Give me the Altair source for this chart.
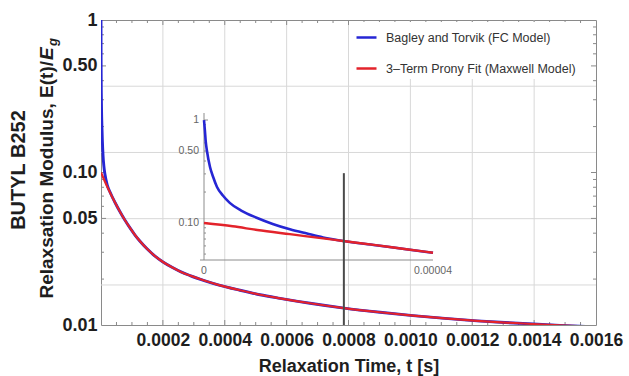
import altair as alt
import pandas as pd

W, H = 495, 305
FONT = "Liberation Sans"

series_names = ["Bagley and Torvik (FC Model)", "3–Term Prony Fit (Maxwell Model)"]
series_colors = ["#2626d4", "#e3232b"]

# ---- main chart curves (time in s, E(t)/Eg) ----
main_red_t = [0, 1.29e-5, 2.91e-5, 4.53e-5, 6.14e-5, 7.76e-5, 9.37e-5, 1.099e-4, 1.261e-4,
              1.487e-4, 1.745e-4, 2.004e-4, 2.295e-4, 2.586e-4, 2.877e-4, 3.362e-4, 3.846e-4,
              4.493e-4, 5.139e-4, 5.786e-4, 6.756e-4, 7.855e-4, 9.018e-4, 1.0085e-3,
              1.1119e-3, 1.2154e-3, 1.3059e-3, 1.3964e-3, 1.4836e-3, 1.6e-3]
main_red_E = [0.1000, 0.0870, 0.0739, 0.0636, 0.0553, 0.0486, 0.0433, 0.0389, 0.0354,
              0.0316, 0.0283, 0.0259, 0.0239, 0.0223, 0.0211, 0.0195, 0.0182,
              0.0169, 0.0158, 0.01496, 0.01388, 0.01291, 0.01212, 0.01152,
              0.01105, 0.01065, 0.01038, 0.01015, 0.00995, 0.00972]
main_blue_t = [0, 1e-7, 3e-7, 6e-7, 1e-6, 2e-6, 3e-6, 4.5e-6, 6.5e-6, 9.3e-6, 1.29e-5, 2e-5,
               2.91e-5, 4.53e-5, 6.14e-5, 7.76e-5, 9.37e-5, 1.099e-4, 1.261e-4,
               1.487e-4, 1.745e-4, 2.004e-4, 2.295e-4, 2.586e-4, 2.877e-4, 3.362e-4, 3.846e-4,
               4.493e-4, 5.139e-4, 5.786e-4, 6.756e-4, 7.855e-4, 9.018e-4, 1.0085e-3,
               1.1119e-3, 1.2154e-3, 1.3059e-3, 1.3964e-3, 1.4836e-3, 1.6e-3]
main_blue_E = [1.0, 0.80, 0.55, 0.42, 0.33, 0.24, 0.20, 0.16, 0.13, 0.110, 0.097, 0.083,
               0.0745, 0.0636, 0.0553, 0.0486, 0.0433, 0.0389, 0.0354,
               0.0316, 0.0283, 0.0259, 0.0239, 0.0223, 0.0211, 0.0195, 0.0182,
               0.0169, 0.0158, 0.01496, 0.01388, 0.01291, 0.01212, 0.01152,
               0.01105, 0.01065, 0.01038, 0.01015, 0.00995, 0.00972]

# ---- inset curves ----
inset_blue_t = [0, 1.5e-7, 3e-7, 5.2e-7, 1.05e-6, 1.6e-6, 2.27e-6, 3.3e-6, 4.5e-6, 6.5e-6,
                9.3e-6, 1.2e-5, 1.5e-5, 1.8e-5, 2.08e-5, 2.43e-5, 3e-5, 3.5e-5, 4e-5]
inset_blue_E = [1.0, 0.80, 0.62, 0.50, 0.35, 0.28, 0.224, 0.185, 0.157, 0.132, 0.112, 0.098,
                0.087, 0.079, 0.0725, 0.067, 0.061, 0.056, 0.0515]
inset_red_t = [0, 5e-6, 9.3e-6, 1.5e-5, 2.08e-5, 2.43e-5, 3e-5, 3.5e-5, 4e-5]
inset_red_E = [0.100, 0.093, 0.0857, 0.078, 0.071, 0.067, 0.061, 0.056, 0.0515]

# ---- axes / grid ----
x_label_values = [0.0002, 0.0004, 0.0006, 0.0008, 0.0010, 0.0012, 0.0014, 0.0016]
y_label_values = [0.01, 0.05, 0.1, 0.5, 1]
grid_x = [0.0002, 0.0004, 0.0006, 0.0008, 0.0010, 0.0012, 0.0014]
grid_y = [0.3679, 0.1353, 0.0498, 0.0183]
x_minor = [0.00005, 0.0001, 0.00015, 0.00025, 0.0003, 0.00035, 0.00045, 0.0005, 0.00055,
           0.00065, 0.0007, 0.00075, 0.00085, 0.0009, 0.00095, 0.00105, 0.0011, 0.00115,
           0.00125, 0.0013, 0.00135, 0.00145, 0.0015, 0.00155]
x_major = [0.0002, 0.0004, 0.0006, 0.0008, 0.0010, 0.0012, 0.0014]
y_minor = [0.02, 0.03, 0.04, 0.06, 0.07, 0.08, 0.09, 0.2, 0.3, 0.4, 0.6, 0.7, 0.8, 0.9]
y_major = [0.05, 0.1, 0.5]

inset_x_labels = [0, 0.00004]
inset_x_label_text = ["0", "0.00004"]
inset_y_labels = [1, 0.5, 0.1]
inset_y_label_text = ["1", "0.50", "0.10"]
inset_y_ticks = [0.05, 0.06, 0.07, 0.08, 0.09, 0.2, 0.3, 0.4, 0.6, 0.7, 0.8, 0.9]
convergence_t = 0.000785

xs = alt.Scale(domain=[0, 0.0016], nice=False, zero=False)
ys = alt.Scale(type="log", domain=[0.01, 1], nice=False)
ixs = alt.Scale(domain=[0, 0.00004], range=[103, 332], nice=False, zero=False)
iys = alt.Scale(type="log", domain=[0.0438, 1.17], range=[240, 93], nice=False)

color_scale = alt.Scale(domain=series_names, range=series_colors)
legend = alt.Legend(orient="none", legendX=250, legendY=2, title=None, symbolType="stroke",
                    symbolSize=400, symbolStrokeWidth=2.5, labelFont=FONT, labelFontSize=12.5,
                    labelColor="#333333", labelOffset=8, rowPadding=13, padding=4,
                    fillColor="white", labelLimit=400)

FRAME = "#8a8a8a"
GRID = "#d8d8d8"

def df(**cols):
    return pd.DataFrame(cols)

x_axis = alt.Axis(values=x_label_values, format=".4f", grid=False, ticks=False, domain=False,
                  labelFont=FONT, labelFontSize=17.5, labelFontWeight="bold", labelColor="#1e1e1e",
                  labelPadding=6, labelFlush=False, labelOverlap=False,
                  title="Relaxation Time, t [s]", titleFont=FONT, titleFontSize=18,
                  titleFontWeight="bold", titleColor="#1e1e1e", titlePadding=9)
y_axis = alt.Axis(values=y_label_values,
                  labelExpr="datum.value >= 1 ? '1' : format(datum.value, '.2f')",
                  grid=False, ticks=False, domain=False, labelFont=FONT, labelFontSize=18,
                  labelFontWeight="bold", labelColor="#1e1e1e", labelPadding=4,
                  labelOverlap=False, title=None)

layers = []
# grid
layers.append(alt.Chart(df(g=grid_x)).mark_rule(color=GRID, strokeWidth=1).encode(
    x=alt.X("g:Q", scale=xs, axis=x_axis)))
layers.append(alt.Chart(df(g=grid_y)).mark_rule(color=GRID, strokeWidth=1).encode(
    y=alt.Y("g:Q", scale=ys, axis=y_axis)))

# frame ticks (inward)
def xticks(vals, ln):
    out = []
    out.append(alt.Chart(df(v=vals)).mark_rule(color=FRAME, strokeWidth=1).encode(
        x=alt.X("v:Q", scale=xs), y=alt.value(H), y2=alt.value(H - ln)))
    out.append(alt.Chart(df(v=vals)).mark_rule(color=FRAME, strokeWidth=1).encode(
        x=alt.X("v:Q", scale=xs), y=alt.value(0), y2=alt.value(ln)))
    return out

def yticks(vals, ln):
    out = []
    out.append(alt.Chart(df(v=vals)).mark_rule(color=FRAME, strokeWidth=1).encode(
        y=alt.Y("v:Q", scale=ys), x=alt.value(0), x2=alt.value(ln)))
    out.append(alt.Chart(df(v=vals)).mark_rule(color=FRAME, strokeWidth=1).encode(
        y=alt.Y("v:Q", scale=ys), x=alt.value(W), x2=alt.value(W - ln)))
    return out

layers += xticks(x_minor, 3) + xticks(x_major, 5) + yticks(y_minor, 3) + yticks(y_major, 5)

blue_df = df(t=main_blue_t, E=main_blue_E, series=[series_names[0]] * len(main_blue_t))
red_df = df(t=main_red_t, E=main_red_E, series=[series_names[1]] * len(main_red_t))
for d, sw in ((blue_df, 2.9), (red_df, 2.2)):
    layers.append(alt.Chart(d).mark_line(strokeWidth=sw, interpolate="monotone", clip=True).encode(
        x=alt.X("t:Q", scale=xs), y=alt.Y("E:Q", scale=ys),
        color=alt.Color("series:N", scale=color_scale, legend=legend)))

# y title (two lines, with italic E_g)
one = pd.DataFrame({"a": [0]})
layers.append(alt.Chart(one).mark_text(text="BUTYL B252", angle=270, align="center",
                                       baseline="alphabetic", font=FONT, fontSize=20,
                                       fontWeight="bold", color="#1e1e1e").encode(
    x=alt.value(-76), y=alt.value(150)))
layers.append(alt.Chart(one).mark_text(text="Relaxsation Modulus, E(t)/", angle=270, align="right",
                                       baseline="alphabetic", font=FONT, fontSize=19,
                                       fontWeight="bold", color="#1e1e1e").encode(
    x=alt.value(-48), y=alt.value(41)))
layers.append(alt.Chart(one).mark_text(text="E", angle=270, align="left",
                                       baseline="alphabetic", font=FONT, fontSize=19,
                                       fontWeight="bold", fontStyle="italic", color="#1e1e1e").encode(
    x=alt.value(-48), y=alt.value(40)))
layers.append(alt.Chart(one).mark_text(text="g", angle=270, align="left",
                                       baseline="alphabetic", font=FONT, fontSize=13,
                                       fontWeight="bold", fontStyle="italic", color="#1e1e1e").encode(
    x=alt.value(-44), y=alt.value(26)))

main = alt.layer(*layers)

# ---- inset ----
ilayers = []
IAX = "#8c8c8c"
ilayers.append(alt.Chart(df(x=[0], y=[0.0438], y2=[1.17])).mark_rule(color=IAX, strokeWidth=1).encode(
    x=alt.X("x:Q", scale=ixs, axis=None), y=alt.Y("y:Q", scale=iys, axis=None), y2="y2:Q"))
ilayers.append(alt.Chart(df(x=[-0.0000007], x2=[0.00004], y=[0.0438])).mark_rule(color=IAX, strokeWidth=1).encode(
    x=alt.X("x:Q", scale=ixs, axis=None), x2="x2:Q", y=alt.Y("y:Q", scale=iys, axis=None)))
ilayers.append(alt.Chart(df(v=inset_y_ticks)).mark_rule(color=IAX, strokeWidth=1).encode(
    y=alt.Y("v:Q", scale=iys, axis=None), x=alt.value(103), x2=alt.value(105)))
ilayers.append(alt.Chart(df(v=inset_y_labels)).mark_rule(color=IAX, strokeWidth=1).encode(
    y=alt.Y("v:Q", scale=iys, axis=None), x=alt.value(103), x2=alt.value(107)))
ilayers.append(alt.Chart(df(v=inset_y_labels, s=inset_y_label_text)).mark_text(
    align="right", baseline="middle", font=FONT, fontSize=10.5, color="#666666", dx=-5).encode(
    y=alt.Y("v:Q", scale=iys, axis=None), x=alt.value(103), text="s:N"))
ilayers.append(alt.Chart(df(v=inset_x_labels, s=inset_x_label_text)).mark_text(
    align="center", baseline="top", font=FONT, fontSize=10.5, color="#666666").encode(
    x=alt.X("v:Q", scale=ixs, axis=None), y=alt.value(246), text="s:N"))
ilayers.append(alt.Chart(df(t=inset_blue_t, E=inset_blue_E)).mark_line(
    color=series_colors[0], strokeWidth=2.6, interpolate="monotone").encode(
    x=alt.X("t:Q", scale=ixs, axis=None), y=alt.Y("E:Q", scale=iys, axis=None)))
ilayers.append(alt.Chart(df(t=inset_red_t, E=inset_red_E)).mark_line(
    color=series_colors[1], strokeWidth=2.4, interpolate="monotone").encode(
    x=alt.X("t:Q", scale=ixs, axis=None), y=alt.Y("E:Q", scale=iys, axis=None)))
inset = alt.layer(*ilayers)

# convergence marker (main coordinates), drawn on top
marker = alt.Chart(df(t=[convergence_t], lo=[0.01], hi=[0.099])).mark_rule(
    color="#4a4a4a", strokeWidth=2).encode(
    x=alt.X("t:Q", scale=xs, axis=None), y=alt.Y("lo:Q", scale=ys, axis=None), y2="hi:Q")

chart = alt.layer(main, inset, marker).resolve_scale(x="independent", y="independent").properties(
    width=W, height=H, background="white",
    padding={"left": 101, "top": 20, "right": 33, "bottom": 51},
    autosize=alt.AutoSizeParams(type="none"),
).configure_view(stroke=FRAME, strokeWidth=1)

chart.save("out.html", embed_options={"renderer": "svg", "actions": False})
